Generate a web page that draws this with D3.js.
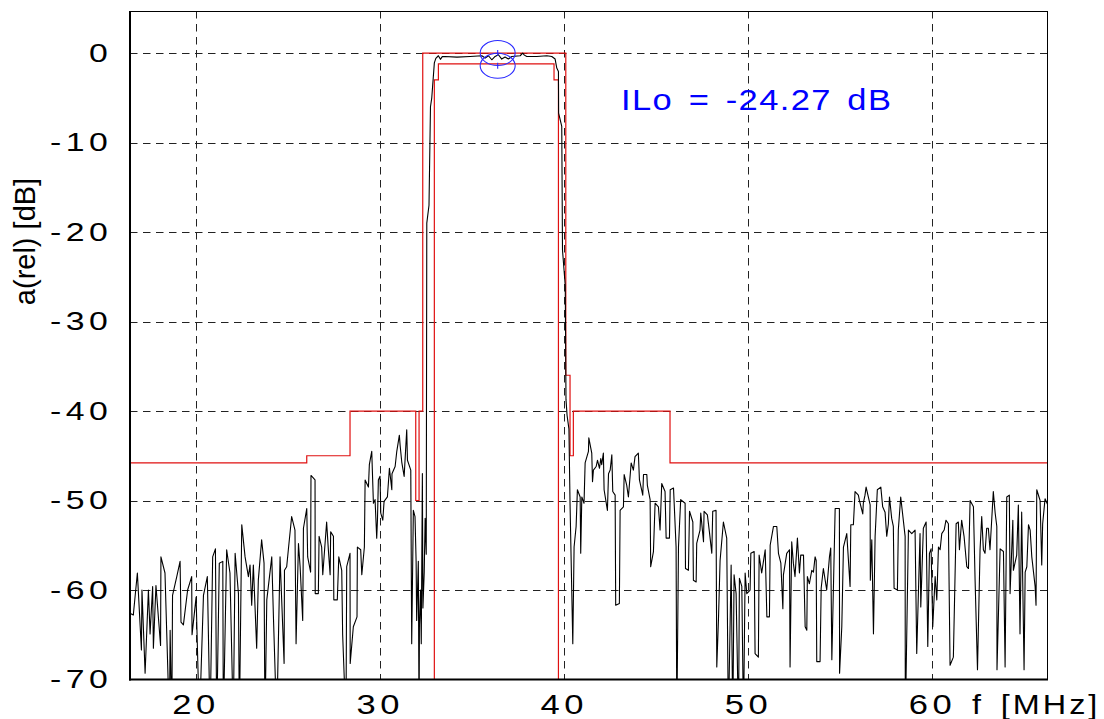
<!DOCTYPE html>
<html>
<head>
<meta charset="utf-8">
<script src="https://cdn.jsdelivr.net/npm/d3@7"></script>
<style>
  body { margin: 0; background: #fff; }
  text { font-family: "Liberation Sans", Arial, sans-serif; fill: #000; }
</style>
</head>
<body>
<svg id="chart" width="1104" height="719"></svg>
<script>
// tick values and labels
const xTicks = [20, 30, 40, 50, 60];
const yTicks = [0, -10, -20, -30, -40, -50, -60, -70];
const xTitle = "f [MHz]";
const yTitle = "a(rel) [dB]";
const annotation = "ILo = -24.27 dB";

// stopband limit (red), [MHz, dB], each level holds until the next point
const stopMask = [
    [16.44, -45.8], [26.04, -45], [28.39, -40], [31.96, -50], [32.14, -40],
    [32.34, 0], [40.11, -36], [40.34, -45], [40.52, -40], [45.77, -45.8], [66.3, -45.8]
];
// passband limit (red)
const passMask = [[32.97, -75], [32.97, -3], [33.19, -1.2], [39.47, -3], [39.71, -75]];

// blue ellipse markers
const markers = [[36.41, 0], [36.41, -1.42]];

// measured response, [MHz, dB]
const lowStop = [
    [16.44,-62.6],[16.62,-62.8],[16.84,-58.1],[17.06,-66.7],[17.09,-60.0],[17.26,-69.3],[17.44,-60.0],[17.53,-64.9],
    [17.67,-59.6],[17.71,-66.5],[17.85,-59.5],[18.10,-66.2],[18.12,-56.3],[18.34,-58.1],[18.58,-75],[18.62,-64.5],
    [18.71,-75],[18.75,-60.6],[18.98,-58.5],[19.16,-56.8],[19.21,-63.6],[19.34,-63.9],[19.57,-60.0],[19.79,-58.5],
    [19.81,-65.0],[20.03,-60.8],[20.21,-75],[20.43,-60.6],[20.64,-58.5],[20.79,-75],[20.93,-56.3],[21.08,-55.4],
    [21.15,-75],[21.29,-57.0],[21.48,-56.8],[21.51,-75],[21.69,-55.5],[21.87,-58.1],[22.05,-75],[22.15,-55.9],
    [22.33,-60.4],[22.38,-75],[22.51,-52.7],[22.69,-56.3],[22.87,-58.5],[22.96,-57.2],[23.05,-61.7],[23.14,-57.2],
    [23.32,-66.5],[23.41,-58.9],[23.59,-54.4],[23.72,-57.0],[23.77,-75],[23.87,-61.1],[24.14,-56.3],[24.23,-63.0],
    [24.41,-75],[24.59,-56.3],[24.81,-68.2],[24.83,-57.8],[24.95,-57.4],[25.04,-55.5],[25.22,-51.8],[25.40,-53.3],
    [25.46,-66.0],[25.59,-54.8],[25.68,-57.4],[25.82,-63.4],[25.86,-53.1],[26.04,-50.9],[26.09,-56.3],[26.25,-58.0],
    [26.27,-47.2],[26.49,-47.7],[26.50,-60.4],[26.67,-60.4],[26.71,-54.0],[26.85,-55.2],[26.91,-58.3],[27.12,-52.4],
    [27.21,-55.4],[27.31,-58.3],[27.34,-53.5],[27.49,-54.0],[27.51,-61.1],[27.70,-61.1],[27.78,-56.3],[27.94,-57.8],
    [27.99,-65.0],[28.17,-75],[28.21,-57.4],[28.39,-55.9],[28.40,-68.2],[28.57,-64.1],[28.77,-63.0],[28.79,-55.2],
    [28.97,-55.5],[29.03,-58.3],[29.17,-55.2],[29.21,-47.7],[29.39,-48.5],[29.44,-46.0],[29.57,-44.5],[29.66,-50.3],
    [29.75,-49.9],[29.84,-54.2],[29.88,-52.2],[29.93,-47.7],[30.02,-47.3],[30.06,-51.4],[30.17,-52.2],[30.24,-50.1],
    [30.42,-49.6],[30.53,-46.4],[30.66,-48.8],[30.67,-47.0],[30.84,-46.2],[30.93,-44.5],[31.07,-42.7],[31.11,-43.8],
    [31.20,-45.7],[31.33,-47.3],[31.47,-42.1],[31.51,-45.5],[31.69,-46.6],[31.74,-66.0],[31.83,-51.1],[31.92,-51.8],
    [31.98,-56.8],[32.01,-63.4],[32.10,-56.8],[32.14,-75],[32.16,-64],[32.22,-60],[32.26,-66],[32.32,-47],
    [32.35,-62],[32.42,-58],[32.47,-52],[32.53,-56]
];
const passband = [
    [32.56,-19],[32.68,-17],[32.76,-6.0],[32.83,-5.0],[32.97,-1.1],[33.05,-0.6],[33.19,-0.3],[33.30,-0.7],
    [33.40,-0.4],[33.55,-0.38],[34.20,-0.45],[34.91,-0.38],[35.55,-0.30],[35.73,-0.56],[35.91,-0.30],[36.09,-0.75],
    [36.27,-0.38],[36.45,-0.19],[36.63,-0.67],[36.81,-0.45],[36.99,-0.67],[37.18,-0.38],[37.63,-0.30],[37.77,0.0],
    [37.86,-0.23],[37.99,-0.38],[38.53,-0.38],[39.08,-0.30],[39.35,-0.38],[39.53,-0.67],[39.62,-1.68],[39.71,-2.05],
    [39.72,-6.7],[39.89,-8.2],[39.93,-22],[40.08,-26],[40.12,-38.7],[40.18,-40.5],[40.28,-42]
];
const highStop = [
    [40.34,-50.3],[40.49,-66.0],[40.56,-55.2],[40.67,-52.9],[40.74,-48.8],[40.89,-49.6],[40.92,-55.9],[40.98,-49.6],
    [41.10,-50.3],[41.16,-45.8],[41.34,-44.5],[41.36,-43.0],[41.52,-44.7],[41.56,-47.9],[41.61,-46.6],[41.76,-46.2],
    [41.83,-45.5],[41.94,-46.4],[42.01,-45.3],[42.06,-46.0],[42.15,-44.7],[42.19,-48.8],[42.37,-51.1],[42.43,-47.0],
    [42.52,-46.6],[42.61,-44.9],[42.66,-49.0],[42.79,-49.4],[42.82,-61.7],[43.02,-61.5],[43.06,-51.1],[43.24,-50.7],
    [43.28,-47.1],[43.42,-48.3],[43.51,-49.6],[43.57,-48.1],[43.66,-45.8],[43.78,-46.6],[43.87,-45.1],[44.05,-44.7],
    [44.11,-47.7],[44.29,-49.4],[44.33,-47.1],[44.51,-47.1],[44.54,-48.3],[44.69,-49.9],[44.72,-57.4],[44.87,-55.7],
    [44.96,-50.3],[45.14,-50.7],[45.23,-53.3],[45.32,-48.1],[45.50,-49.0],[45.56,-54.2],[45.74,-54.2],[45.78,-48.8],
    [45.96,-48.6],[46.10,-55.2],[46.14,-75],[46.23,-55.2],[46.35,-49.9],[46.59,-50.3],[46.61,-57.6],[46.77,-57.8],
    [46.83,-51.2],[47.01,-52.4],[47.04,-58.9],[47.19,-59.1],[47.22,-54.8],[47.40,-53.3],[47.44,-51.4],[47.59,-54.6],
    [47.62,-51.2],[47.80,-51.6],[47.91,-53.5],[48.04,-55.9],[48.09,-51.2],[48.27,-51.1],[48.31,-68.6],[48.40,-63.4],
    [48.49,-56.7],[48.67,-52.4],[48.85,-54.2],[48.94,-75],[49.09,-57.2],[49.18,-75],[49.25,-58.3],[49.36,-60.4],
    [49.49,-75],[49.54,-58.7],[49.67,-59.6],[49.76,-75],[49.85,-58.1],[49.94,-60.4],[50.12,-60.0],[50.16,-55.9],
    [50.34,-55.7],[50.39,-67.1],[50.57,-67.5],[50.61,-56.1],[50.75,-58.1],[50.94,-55.5],[51.03,-63.0],[51.17,-63.0],
    [51.21,-55.0],[51.39,-52.9],[51.57,-52.9],[51.66,-55.9],[51.79,-57.0],[51.90,-62.1],[51.93,-58.3],[52.11,-55.9],
    [52.26,-55.5],[52.29,-68.6],[52.38,-54.6],[52.47,-57.0],[52.56,-58.5],[52.69,-54.2],[52.80,-58.1],[52.87,-56.1],
    [53.02,-56.1],[53.11,-64.1],[53.20,-64.5],[53.23,-58.5],[53.34,-59.3],[53.47,-57.8],[53.56,-58.0],[53.65,-56.3],
    [53.71,-56.7],[53.74,-68.0],[53.92,-68.0],[53.98,-59.8],[54.10,-57.6],[54.28,-60.0],[54.43,-56.3],[54.50,-55.3],
    [54.56,-67.8],[54.74,-50.9],[54.97,-50.9],[54.98,-69.3],[55.10,-64.1],[55.19,-55.2],[55.37,-53.7],[55.55,-59.6],
    [55.59,-52.7],[55.73,-52.7],[55.82,-49.0],[56.00,-49.4],[56.06,-50.0],[56.24,-51.5],[56.27,-50.3],[56.36,-49.4],
    [56.42,-48.5],[56.64,-50.5],[56.65,-58.9],[56.73,-54.4],[56.82,-64.9],[56.91,-54.0],[57.03,-48.8],[57.22,-48.5],
    [57.32,-50.7],[57.45,-51.3],[57.54,-54.0],[57.63,-52.6],[57.69,-49.6],[57.81,-52.0],[57.90,-52.9],[57.94,-59.8],
    [58.12,-60.0],[58.17,-53.3],[58.30,-49.6],[58.54,-54.0],[58.55,-75],[58.72,-53.3],[58.90,-53.7],[59.08,-53.3],
    [59.17,-67.1],[59.35,-53.7],[59.39,-61.9],[59.53,-53.1],[59.68,-52.4],[59.77,-66.3],[59.86,-55.9],[59.95,-55.4],
    [60.04,-64.1],[60.17,-58.5],[60.26,-61.1],[60.35,-55.2],[60.44,-55.5],[60.53,-53.7],[60.66,-53.3],[60.76,-52.2],
    [60.89,-52.6],[60.98,-68.4],[61.16,-67.5],[61.31,-52.6],[61.43,-52.4],[61.49,-55.5],[61.61,-52.2],[61.74,-54.0],
    [61.89,-57.4],[61.98,-57.6],[62.07,-50.0],[62.25,-50.7],[62.34,-58.9],[62.47,-68.9],[62.61,-55.5],[62.70,-51.8],
    [62.79,-55.5],[62.88,-55.9],[62.97,-53.1],[63.06,-53.1],[63.15,-55.5],[63.33,-49.0],[63.43,-51.4],[63.52,-52.9],
    [63.53,-68.9],[63.70,-55.4],[63.88,-55.7],[63.97,-68.6],[64.06,-49.6],[64.20,-49.4],[64.24,-60.4],[64.39,-52.2],
    [64.42,-57.8],[64.60,-56.1],[64.69,-50.5],[64.78,-64.9],[64.87,-51.3],[65.00,-68.9],[65.06,-58.0],[65.15,-57.4],
    [65.24,-52.7],[65.33,-53.3],[65.42,-56.3],[65.60,-59.6],[65.65,-61.7],[65.69,-48.8],[65.87,-50.0],[65.96,-57.2],
    [66.01,-52.6],[66.14,-49.8],[66.29,-50.5]
];

const svg = d3.select("#chart");
const width = 1104;
const height = 719;
const plot = { left: 130, right: 1048, top: 11, bottom: 679.5 };

svg.append("rect").attr("width", width).attr("height", height).attr("fill", "#fff");

const xScale = d3.scaleLinear().domain([16.44, 66.3]).range([plot.left, plot.right]);
const yScale = d3.scaleLinear().domain([-70, 4.7]).range([plot.bottom, plot.top]);

svg.append("clipPath").attr("id", "clip")
    .append("rect")
    .attr("x", plot.left).attr("y", plot.top)
    .attr("width", plot.right - plot.left).attr("height", plot.bottom - plot.top);

// dashed grid
const grid = svg.append("g")
    .attr("stroke", "#222")
    .attr("stroke-width", 1)
    .attr("stroke-dasharray", "7.5,5.5");

grid.selectAll(".vgrid")
    .data(xTicks)
    .enter()
    .append("line")
    .attr("x1", d => Math.round(xScale(d)) + 0.5)
    .attr("x2", d => Math.round(xScale(d)) + 0.5)
    .attr("y1", plot.top)
    .attr("y2", plot.bottom);

grid.selectAll(".hgrid")
    .data(yTicks.filter(d => d > -70))
    .enter()
    .append("line")
    .attr("x1", plot.left)
    .attr("x2", plot.right)
    .attr("y1", d => Math.round(yScale(d)) + 0.5)
    .attr("y2", d => Math.round(yScale(d)) + 0.5);

// axes (labels only, plain hyphen for minus)
const xAxis = svg.append("g")
    .attr("transform", `translate(0, ${plot.bottom})`)
    .call(d3.axisBottom(xScale).tickValues(xTicks).tickSize(0).tickPadding(15).tickFormat(d => String(d)));
xAxis.select(".domain").remove();
xAxis.selectAll("text")
    .attr("font-size", 27)
    .attr("letter-spacing", 3.5)
    .attr("transform", "scale(1.28,1)")
    .style("font-family", "'Liberation Sans', Arial, sans-serif");

const yAxis = svg.append("g")
    .attr("transform", `translate(${plot.left}, 0)`)
    .call(d3.axisLeft(yScale).tickValues(yTicks).tickSize(0).tickPadding(13.5).tickFormat(d => String(d)));
yAxis.select(".domain").remove();
yAxis.selectAll("text")
    .attr("font-size", 26)
    .attr("letter-spacing", 3.5)
    .attr("transform", "scale(1.3,1)")
    .style("font-family", "'Liberation Sans', Arial, sans-serif");

// red limit masks
const maskLine = d3.line()
    .x(d => xScale(d[0]))
    .y(d => yScale(d[1]))
    .curve(d3.curveStepAfter);

const masks = svg.append("g").attr("clip-path", "url(#clip)");
[stopMask, passMask].forEach(m => {
    masks.append("path")
        .datum(m)
        .attr("d", maskLine)
        .attr("fill", "none")
        .attr("stroke", "#e01010")
        .attr("stroke-width", 1.2);
});

// measured response
const traceLine = d3.line()
    .x(d => xScale(d[0]))
    .y(d => yScale(d[1]));

svg.append("path")
    .datum(lowStop.concat(passband, highStop))
    .attr("clip-path", "url(#clip)")
    .attr("d", traceLine)
    .attr("fill", "none")
    .attr("stroke", "#000")
    .attr("stroke-width", 1.1)
    .attr("stroke-linejoin", "round");

// blue markers
const mk = svg.append("g").attr("stroke", "#2a2aff").attr("fill", "none").attr("stroke-width", 1.1);
mk.selectAll("ellipse")
    .data(markers)
    .enter()
    .append("ellipse")
    .attr("cx", d => xScale(d[0]))
    .attr("cy", d => yScale(d[1]))
    .attr("rx", 17.5)
    .attr("ry", 12.5);
mk.selectAll("line")
    .data(markers)
    .enter()
    .append("line")
    .attr("x1", d => xScale(d[0]))
    .attr("x2", d => xScale(d[0]))
    .attr("y1", d => yScale(d[1]) - 3)
    .attr("y2", d => yScale(d[1]) + 3);

// frame
const frame = svg.append("g").attr("stroke", "#000");
frame.append("line").attr("x1", plot.left).attr("x2", plot.right).attr("y1", plot.top + 0.5).attr("y2", plot.top + 0.5).attr("stroke-width", 1);
frame.append("line").attr("x1", plot.right - 0.5).attr("x2", plot.right - 0.5).attr("y1", plot.top).attr("y2", plot.bottom).attr("stroke-width", 1);
frame.append("line").attr("x1", plot.left).attr("x2", plot.left).attr("y1", plot.top).attr("y2", plot.bottom + 1).attr("stroke-width", 2);
frame.append("line").attr("x1", plot.left - 1).attr("x2", plot.right).attr("y1", plot.bottom).attr("y2", plot.bottom).attr("stroke-width", 2);

// titles
svg.append("text")
    .attr("transform", "translate(972, 714) scale(1.2,1)")
    .attr("font-size", 27)
    .attr("letter-spacing", 2.5)
    .attr("word-spacing", 4)
    .text(xTitle);

svg.append("text")
    .attr("transform", "translate(35, 241.5) rotate(-90)")
    .attr("text-anchor", "middle")
    .attr("font-size", 29)
    .text(yTitle);

svg.append("text")
    .attr("transform", "translate(621, 110) scale(1.15,1)")
    .attr("font-size", 30)
    .attr("letter-spacing", 1.2)
    .attr("word-spacing", 4)
    .style("fill", "#0000ff")
    .text(annotation);
</script>
</body>
</html>
